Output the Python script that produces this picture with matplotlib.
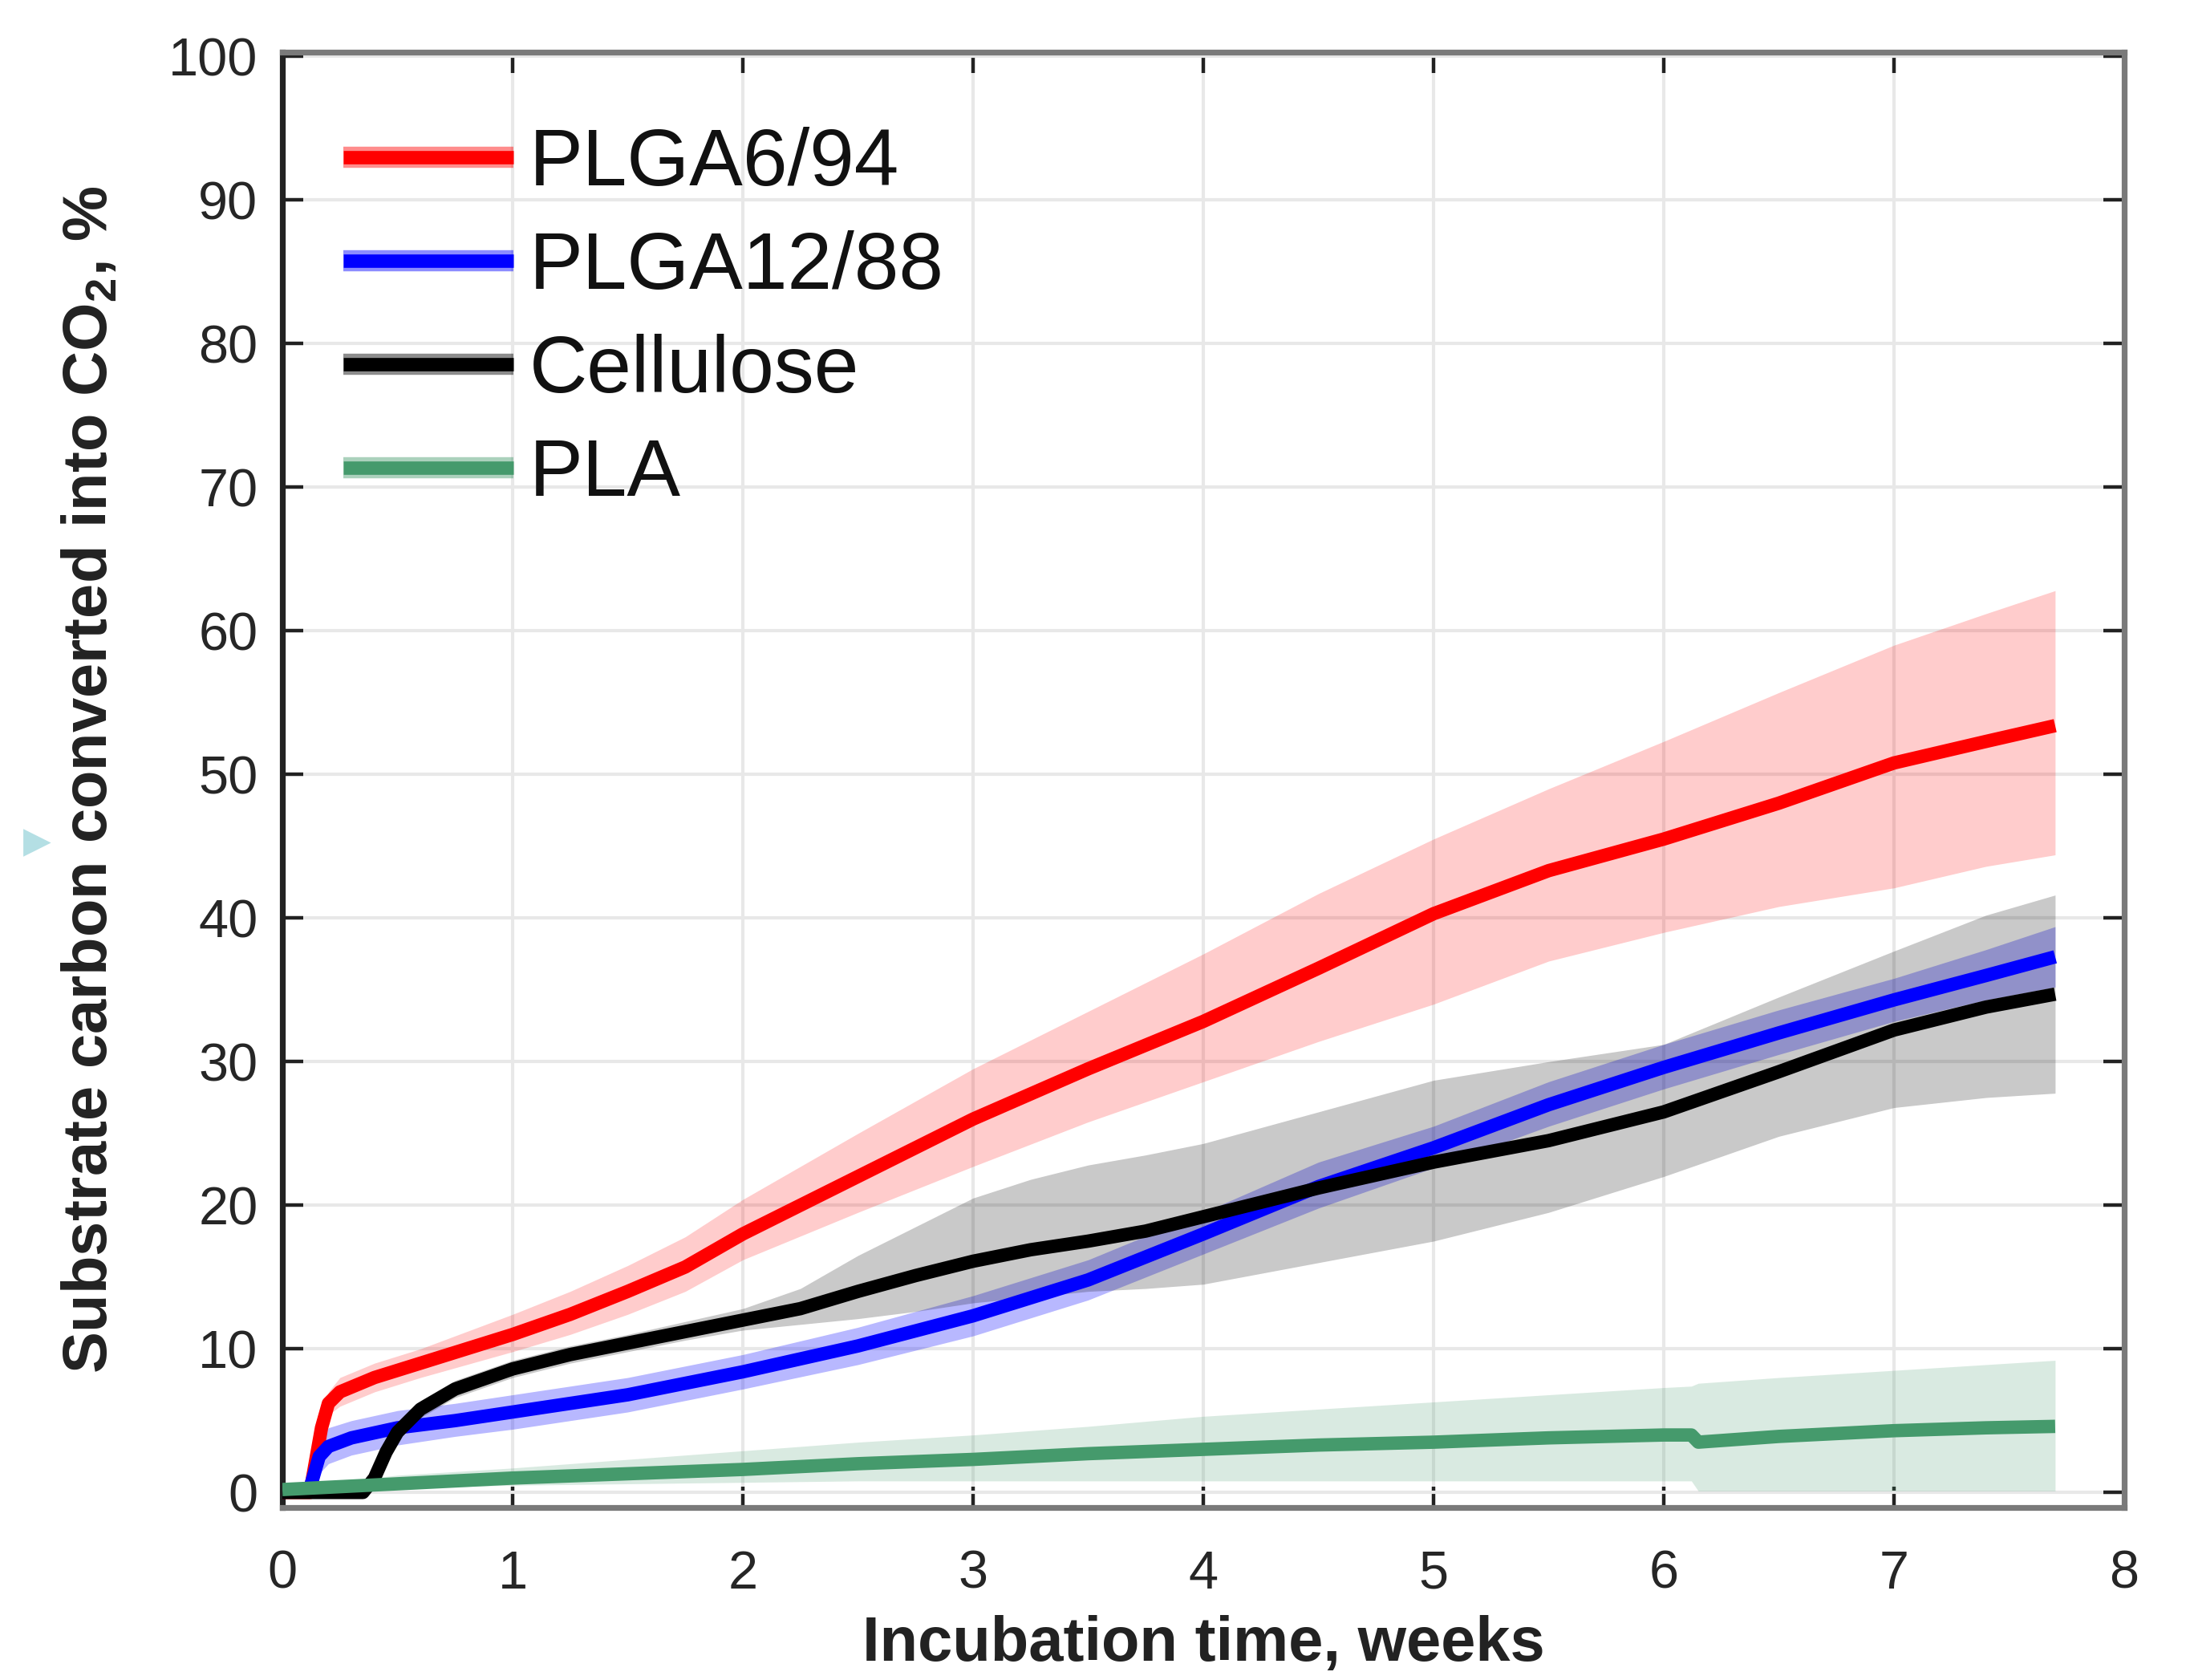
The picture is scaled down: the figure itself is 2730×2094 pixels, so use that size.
import matplotlib
matplotlib.use("Agg")
import matplotlib.pyplot as plt
from matplotlib.lines import Line2D

plt.rcParams['font.family'] = ['Liberation Sans', 'DejaVu Sans']
plt.rcParams['mathtext.fontset'] = 'custom'
plt.rcParams['mathtext.rm'] = 'Liberation Sans'
plt.rcParams['mathtext.bf'] = 'Liberation Sans:bold'

# ---------------- data ----------------
labels = ["PLGA6/94", "PLGA12/88", "Cellulose", "PLA"]

t_red = [0, 0.12, 0.17, 0.2, 0.25, 0.4, 0.6, 0.8, 1.0, 1.25, 1.5, 1.75, 2.0, 2.5,
         3.0, 3.5, 4.0, 4.5, 5.0, 5.5, 6.0, 6.5, 7.0, 7.4, 7.7]
red_mean = [0, 0, 4.5, 6.2, 7.0, 8.0, 9.0, 10.0, 11.0, 12.4, 14.0, 15.7, 18.0, 22.0,
            26.0, 29.5, 32.8, 36.5, 40.3, 43.3, 45.5, 48.0, 50.8, 52.3, 53.4]
red_upper = [0, 0, 5.2, 7.0, 8.0, 9.0, 10.0, 11.2, 12.4, 14.0, 15.8, 17.8, 20.4, 25.0,
             29.5, 33.5, 37.5, 41.7, 45.5, 49.0, 52.3, 55.7, 59.0, 61.2, 62.8]
red_lower = [0, 0, 3.8, 5.4, 6.0, 7.0, 8.0, 8.9, 9.8, 11.0, 12.4, 14.0, 16.2, 19.5,
             22.7, 25.8, 28.6, 31.4, 34.0, 37.0, 39.0, 40.8, 42.1, 43.6, 44.4]

t_blue = [0, 0.12, 0.16, 0.2, 0.3, 0.5, 0.75, 1.0, 1.5, 2.0, 2.5, 3.0, 3.5, 4.0, 4.5,
          5.0, 5.5, 6.0, 6.5, 7.0, 7.4, 7.7]
blue_mean = [0, 0.3, 2.5, 3.2, 3.8, 4.5, 5.0, 5.6, 6.8, 8.4, 10.2, 12.3, 14.8, 18.0, 21.3,
             24.0, 27.0, 29.6, 32.0, 34.3, 36.0, 37.3]
blue_upper = [0, 0.5, 3.8, 4.5, 5.0, 5.7, 6.2, 6.8, 8.0, 9.6, 11.5, 13.7, 16.2, 19.5, 23.0,
              25.5, 28.6, 31.2, 33.6, 35.8, 37.8, 39.4]
blue_lower = [0, 0.1, 1.3, 2.0, 2.6, 3.3, 3.9, 4.4, 5.6, 7.2, 8.9, 10.9, 13.4, 16.6, 19.8,
              22.6, 25.5, 28.1, 30.5, 32.8, 34.3, 35.2]

t_black = [0, 0.35, 0.4, 0.45, 0.5, 0.6, 0.75, 1.0, 1.25, 1.5, 1.75, 2.0, 2.25, 2.5, 2.75,
           3.0, 3.25, 3.5, 3.75, 4.0, 4.5, 5.0, 5.5, 6.0, 6.5, 7.0, 7.4, 7.7]
black_mean = [0, 0, 1.0, 2.8, 4.2, 5.8, 7.2, 8.6, 9.6, 10.4, 11.2, 12.0, 12.8, 14.0, 15.1,
              16.1, 16.9, 17.5, 18.2, 19.2, 21.2, 23.0, 24.5, 26.5, 29.3, 32.2, 33.8, 34.7]
black_upper = [0, 0, 1.4, 3.3, 4.8, 6.4, 7.8, 9.2, 10.2, 11.0, 11.9, 12.8, 14.2, 16.5, 18.5,
               20.5, 21.8, 22.8, 23.5, 24.3, 26.5, 28.7, 30.0, 31.2, 34.5, 37.7, 40.2, 41.6]
black_lower = [0, 0, 0.6, 2.3, 3.6, 5.2, 6.6, 8.0, 9.0, 9.8, 10.6, 11.3, 11.7, 12.1, 12.6,
               13.2, 13.6, 14.0, 14.2, 14.5, 16.0, 17.5, 19.5, 22.0, 24.8, 26.8, 27.5, 27.8]

t_green = [0, 0.5, 1.0, 1.5, 2.0, 2.5, 3.0, 3.5, 4.0, 4.5, 5.0, 5.5, 6.0, 6.12, 6.15,
           6.5, 7.0, 7.4, 7.7]
green_mean = [0.2, 0.6, 1.0, 1.3, 1.6, 2.0, 2.3, 2.7, 3.0, 3.3, 3.5, 3.8, 4.0, 4.0, 3.5,
              3.9, 4.3, 4.5, 4.6]
green_upper = [0.3, 1.2, 1.7, 2.3, 2.9, 3.5, 4.0, 4.6, 5.3, 5.8, 6.3, 6.8, 7.3, 7.4, 7.6,
               8.0, 8.5, 8.9, 9.2]
green_lower = [0.1, 0.3, 0.5, 0.6, 0.7, 0.8, 0.8, 0.8, 0.8, 0.8, 0.8, 0.8, 0.8, 0.8, 0.1,
               0.1, 0.1, 0.1, 0.1]

x_ticks = [0, 1, 2, 3, 4, 5, 6, 7, 8]
y_ticks = [0, 10, 20, 30, 40, 50, 60, 70, 80, 90, 100]

# ---------------- figure ----------------
fig = plt.figure(figsize=(13.65, 10.47), dpi=200)
ax = fig.add_axes([352 / 2730, 1 - 1879 / 2094, (2648 - 352) / 2730, (1879 - 65) / 2094])

series = [
    (t_red, red_mean, red_upper, red_lower, '#ff0000', 0.2),
    (t_blue, blue_mean, blue_upper, blue_lower, '#0000ff', 0.28),
    (t_black, black_mean, black_upper, black_lower, '#000000', 0.21),
    (t_green, green_mean, green_upper, green_lower, '#459a6c', 0.2),
]

lw = 6.0
handles = []
for (t, m, up, lo, c, a), lab in zip(series, labels):
    ax.fill_between(t, lo, up, color=c, alpha=a, linewidth=0, zorder=2)
for (t, m, up, lo, c, a), lab in zip(series, labels):
    ax.plot(t, m, color=c, lw=lw, zorder=3, solid_capstyle='butt')
    band = Line2D([], [], color=c, alpha=0.45, lw=9.5, solid_capstyle='butt')
    line = Line2D([], [], color=c, lw=lw, solid_capstyle='butt')
    handles.append((band, line))

ax.set_xlim(0, 8)
ax.set_ylim(-1.05, 100.3)
ax.set_xticks(x_ticks)
ax.set_yticks(y_ticks)

ax.grid(True, color='#e8e8e8', lw=1.5, zorder=0)
ax.set_axisbelow(True)

ax.tick_params(direction='in', length=9.5, width=1.6, colors='#222222',
               top=True, right=True, labelsize=24, labelcolor='#262626')
ax.tick_params(axis='x', pad=19)
ax.tick_params(axis='y', pad=11)

for side in ['top', 'bottom', 'right']:
    ax.spines[side].set_color('#7a7a7a')
    ax.spines[side].set_linewidth(2.6)
ax.spines['left'].set_color('#222222')
ax.spines['left'].set_linewidth(2.6)

ax.set_xlabel('Incubation time, weeks', fontsize=28, fontweight='bold',
              color='#222222', labelpad=7)
ax.set_ylabel(r'Substrate carbon converted into CO$_\mathbf{2}$, %', fontsize=28,
              fontweight='bold', color='#222222', labelpad=22)

leg = ax.legend(handles, labels, loc='upper left', bbox_to_anchor=(0.033, 0.949),
                frameon=False, fontsize=36, handlelength=2.12, handletextpad=0.2,
                labelspacing=0.35, borderpad=0, borderaxespad=0)
for txt in leg.get_texts():
    txt.set_color('#111111')

# small cyan triangle artifact at the left edge
fig.add_artist(Line2D([45 / 2730], [1 - 1050 / 2094], marker='>', markersize=11,
                      color='#b4dfe4', linestyle='none', transform=fig.transFigure))

fig.savefig('out.png', dpi=200)
